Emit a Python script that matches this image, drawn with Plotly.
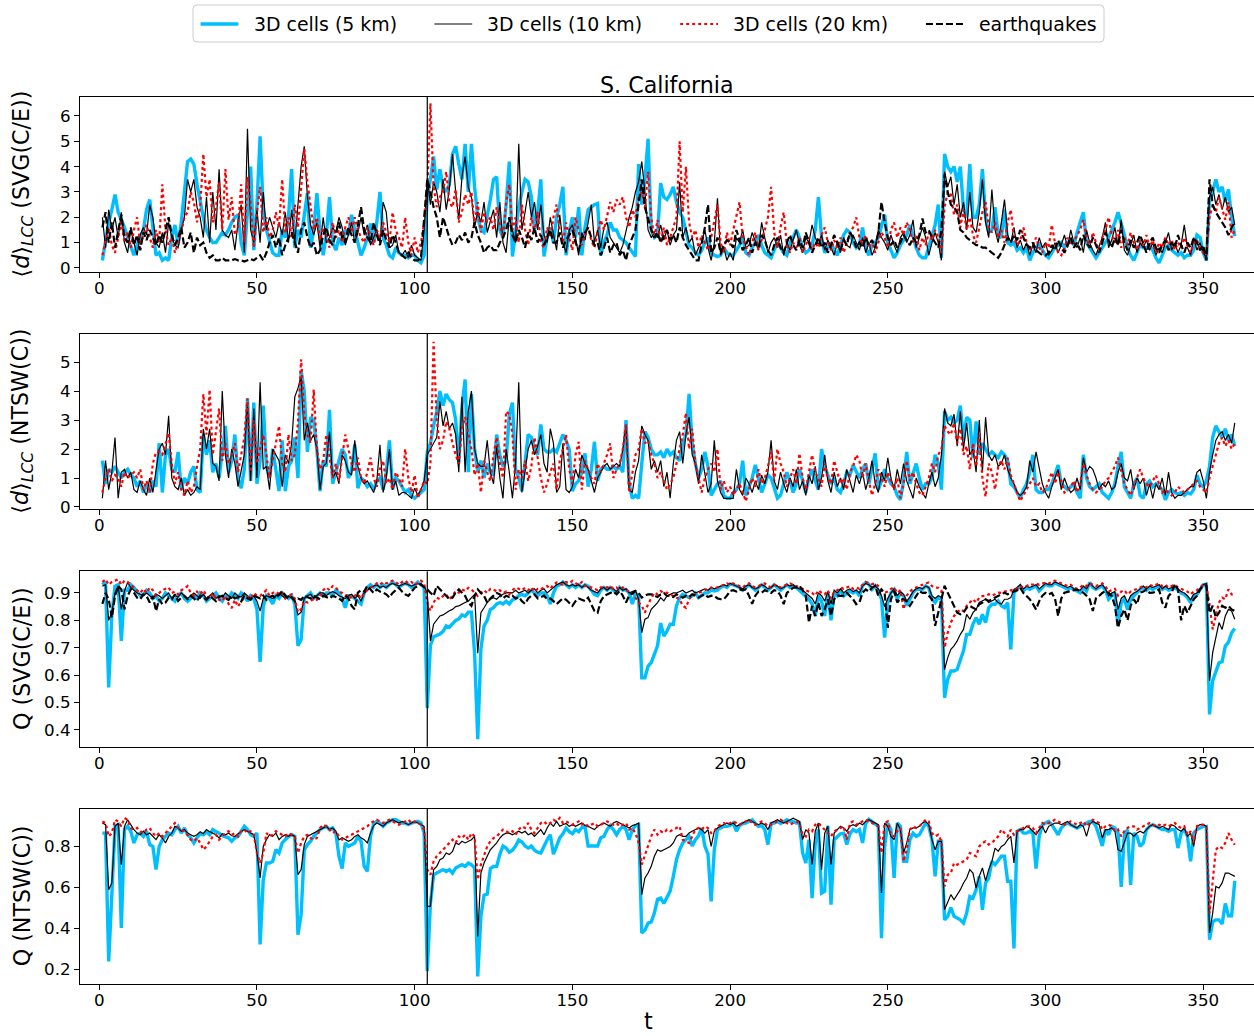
import plotly.graph_objects as go

# ---------------- data (t = 1 .. 360) ----------------
d5_svg = [
 0.3,1.0,1.8,2.3,2.9,2.2,1.9,1.6,1.2,0.8,0.5,0.9,1.2,1.5,2.3,2.7,1.6,0.5,0.6,0.3,
 0.4,0.3,1.2,1.7,0.9,1.8,3.0,4.2,4.3,4.1,3.3,2.6,2.0,1.5,1.2,1.0,1.0,1.2,1.4,1.3,
 1.5,1.8,2.0,2.1,1.0,0.5,2.2,4.0,0.7,2.5,5.2,2.3,1.5,1.0,0.6,0.5,0.5,1.5,1.2,2.0,
 3.9,0.8,1.5,1.2,2.0,2.95,0.8,1.5,2.95,1.4,0.5,1.3,2.8,1.0,0.7,1.2,0.9,1.5,1.3,2.1,
 1.5,1.0,0.5,0.8,1.2,1.75,1.0,1.8,3.0,1.2,0.9,0.5,0.4,0.8,0.6,0.5,0.5,0.4,0.5,0.5,
 0.3,0.2,0.5,2.8,3.5,4.4,3.1,3.9,3.2,3.0,3.3,4.5,4.8,4.1,3.5,4.9,3.0,4.9,3.2,2.0,
 1.5,1.4,2.0,2.7,3.5,3.6,1.5,1.2,2.5,4.2,0.45,1.5,2.4,3.0,3.5,3.4,2.8,1.5,2.2,3.5,
 0.45,1.2,1.6,1.0,2.0,2.5,3.2,0.5,1.4,2.0,1.2,2.4,0.5,1.6,2.3,2.4,2.5,2.55,0.5,1.0,
 1.3,1.8,1.5,1.5,1.2,1.1,1.0,0.8,0.6,0.45,4.1,2.5,3.5,5.1,1.5,1.2,1.3,3.35,2.8,2.7,
 2.9,3.2,2.6,2.2,2.0,1.5,0.9,0.8,0.6,0.5,0.7,1.0,1.2,0.6,0.5,0.45,0.5,0.8,0.6,0.5,
 0.5,0.7,0.9,1.2,0.6,0.5,0.8,1.0,1.3,0.9,0.6,0.5,0.4,0.7,1.0,0.8,0.6,0.5,1.0,1.2,
 1.5,1.2,0.8,0.6,0.7,0.9,1.5,2.8,1.2,0.6,0.8,1.0,0.7,0.5,0.9,1.3,1.5,1.4,1.0,0.8,
 0.9,1.6,0.8,0.5,0.9,1.0,1.2,1.6,2.1,1.0,0.7,0.4,0.6,0.9,1.1,1.3,1.7,1.2,0.8,0.5,
 0.4,0.4,0.8,1.2,1.7,2.5,0.4,4.5,4.0,3.8,4.0,3.4,4.0,2.3,2.0,4.1,2.0,2.0,2.5,3.9,
 2.0,1.4,1.5,2.4,1.3,1.2,2.3,1.0,0.9,1.0,0.7,0.8,0.6,0.8,0.3,0.6,0.8,1.0,0.7,0.5,
 0.4,0.6,0.8,0.9,1.0,0.8,1.0,1.1,0.9,1.4,1.8,2.2,1.0,0.8,0.6,0.4,0.6,0.8,1.0,1.2,
 1.5,1.8,2.2,1.8,1.3,0.8,0.5,0.3,0.6,0.9,0.8,0.8,0.9,0.7,0.4,0.2,0.5,0.8,0.9,0.7,
 0.6,0.5,0.6,0.4,0.5,0.5,0.7,1.3,1.2,0.6,0.3,2.7,3.0,3.5,3.0,3.2,2.6,3.1,2.0,1.25]

d10_svg = [
 2.0,0.8,2.3,1.5,2.0,1.2,2.2,1.0,0.6,1.5,1.0,0.5,1.3,1.6,1.3,2.5,2.0,1.0,0.8,1.4,
 0.6,1.8,1.2,0.9,0.8,1.5,2.0,3.5,3.0,3.5,2.4,2.0,1.2,2.8,1.0,3.0,1.5,3.9,1.5,1.3,
 1.2,1.5,0.7,1.8,2.5,0.6,5.5,1.5,1.0,2.3,1.0,3.0,1.5,2.0,1.6,1.2,1.8,1.3,2.2,1.0,
 2.3,1.0,2.5,4.0,4.8,2.8,1.7,1.3,1.8,0.8,2.0,1.0,1.2,1.6,1.4,2.0,1.6,0.9,1.3,1.8,
 1.0,1.4,2.0,1.3,1.7,0.9,1.2,1.5,1.0,2.6,2.2,0.8,0.9,1.3,0.6,0.5,0.7,0.4,0.9,0.5,
 0.4,0.3,1.5,3.5,2.5,3.4,3.0,2.2,3.5,2.3,3.1,4.5,3.0,1.9,3.6,4.4,3.2,2.8,1.6,2.2,
 1.8,2.6,1.4,1.9,2.3,1.2,2.6,1.0,0.6,2.0,1.5,1.0,4.9,1.5,2.2,3.0,2.0,2.6,1.5,2.5,
 1.3,1.0,2.0,1.4,0.7,2.1,1.0,0.6,1.5,1.7,1.2,0.5,1.4,1.1,1.8,2.5,1.0,1.5,0.8,1.6,
 1.8,1.2,1.0,0.8,0.6,0.9,1.5,2.0,2.4,3.0,3.4,4.2,3.0,1.5,1.2,1.4,1.2,1.7,1.1,1.5,
 0.9,1.3,1.5,3.4,1.2,1.6,1.0,1.2,0.5,0.8,1.0,1.5,0.8,0.3,1.0,2.75,0.5,0.8,0.3,0.6,
 0.3,1.2,1.0,1.5,0.8,0.9,1.4,1.0,0.7,1.8,1.2,0.6,1.0,1.2,0.8,1.3,0.5,1.0,0.7,1.1,
 1.5,0.9,0.6,1.2,1.0,1.7,1.2,0.9,1.3,0.7,1.1,0.8,0.5,1.0,0.6,1.2,0.9,0.8,1.3,1.0,
 0.7,1.2,0.6,1.0,0.5,0.8,1.5,1.2,1.0,0.7,1.3,0.9,0.6,1.2,1.4,1.0,1.3,1.9,0.8,1.2,
 1.6,1.2,0.5,1.0,1.4,1.0,0.3,3.8,3.2,3.6,2.5,3.3,2.0,2.6,1.5,3.0,1.6,1.4,2.2,3.5,
 1.8,1.2,3.1,1.5,1.0,1.8,2.7,1.3,1.0,1.6,0.8,1.1,0.7,1.0,0.5,0.9,0.6,1.2,0.8,1.0,
 0.5,0.7,1.0,0.6,0.9,1.3,0.8,1.5,1.0,0.8,1.2,0.6,1.5,1.0,0.7,0.5,0.9,1.2,1.8,0.8,
 1.1,1.6,0.9,1.9,0.7,0.5,0.9,1.3,0.6,1.0,0.8,1.1,0.7,1.0,0.5,0.8,0.6,1.0,1.4,0.7,
 1.0,0.6,0.9,1.7,0.8,0.5,1.2,0.7,1.0,0.6,0.4,2.8,3.2,2.5,2.9,2.3,2.8,2.2,2.4,1.7]

d20_svg = [
 0.5,1.0,1.6,0.9,0.6,1.2,1.8,1.0,1.4,0.8,1.5,2.0,0.9,1.3,1.7,1.2,0.8,1.5,1.0,3.3,
 1.5,0.9,1.2,0.6,1.0,1.4,2.0,2.2,3.0,2.6,1.8,2.4,4.5,2.8,3.5,1.8,2.4,3.4,1.5,3.9,
 1.9,2.8,1.3,1.6,3.3,1.0,3.6,2.5,0.8,2.2,3.2,1.4,2.0,1.2,1.5,2.2,1.6,3.5,1.4,2.0,
 1.2,2.5,1.6,3.0,4.7,3.4,2.5,1.5,2.0,1.1,1.6,1.3,0.8,1.8,1.2,1.5,1.0,1.6,2.0,1.4,
 2.0,1.5,1.2,1.0,1.6,1.3,0.9,1.5,1.2,1.8,1.4,1.0,2.2,1.5,1.2,0.8,2.0,1.0,0.5,1.2,
 0.6,1.0,1.8,3.0,6.5,3.2,2.4,2.8,3.0,3.8,2.6,2.4,3.1,1.8,2.2,2.9,2.5,3.0,1.7,2.6,
 1.4,2.2,1.8,2.0,1.5,2.4,1.7,1.2,2.6,3.3,1.5,2.0,1.0,2.5,1.5,0.9,2.0,1.4,2.2,1.0,
 0.8,1.6,1.2,2.0,2.5,1.4,1.0,1.8,1.2,0.7,2.0,1.5,0.9,1.3,1.6,1.1,0.8,1.4,1.9,1.5,
 2.0,2.6,2.2,2.7,2.5,2.8,2.0,1.6,2.3,2.0,2.8,3.0,2.4,3.8,2.0,1.2,1.9,1.0,1.6,0.9,
 1.2,1.6,2.0,5.0,2.2,4.0,1.8,1.2,1.5,0.8,1.3,1.0,0.7,1.2,1.8,2.5,1.0,0.6,1.4,0.9,
 1.5,2.0,2.6,1.2,0.8,0.5,1.0,1.4,0.7,1.1,1.5,2.0,3.2,1.4,0.8,1.6,2.2,0.9,0.6,1.0,
 0.8,1.2,0.6,0.9,1.2,0.7,1.0,0.8,1.3,1.6,1.0,0.7,1.1,0.8,1.2,0.6,1.0,1.4,1.6,2.0,
 1.2,0.9,1.3,0.8,1.1,0.6,1.0,1.4,1.2,0.8,1.5,1.8,1.2,1.6,1.3,1.8,1.5,1.0,1.3,0.7,
 1.2,0.9,1.4,1.1,1.5,1.2,0.6,2.4,3.0,2.9,2.1,2.5,1.6,2.3,1.5,2.0,1.3,1.0,1.6,2.2,
 2.6,1.6,1.4,1.8,1.2,1.5,1.0,1.8,2.3,1.2,0.9,1.1,1.6,1.0,0.7,0.9,1.2,0.8,0.6,1.0,
 0.8,1.7,1.0,0.6,0.5,0.8,1.2,0.9,1.0,1.3,1.5,1.9,1.2,0.8,1.4,1.0,0.7,1.2,1.5,2.0,
 1.3,1.0,1.5,0.8,1.2,0.9,1.4,1.0,0.7,1.1,0.9,1.3,0.8,1.1,0.6,1.0,0.8,1.2,0.9,1.1,
 0.7,1.0,0.8,1.2,0.9,0.6,1.0,1.1,0.8,0.6,0.5,2.0,2.5,2.2,2.8,2.4,1.9,2.6,1.2,1.5]

deq_svg = [
 1.6,2.2,1.0,1.8,0.8,1.5,2.1,1.2,1.0,1.6,0.9,1.3,0.7,1.4,1.1,1.5,1.2,0.9,1.3,1.0,
 1.5,2.0,1.3,0.9,1.2,1.6,0.8,1.0,1.4,0.6,1.2,0.9,1.0,0.6,0.4,0.5,0.3,0.3,0.4,0.3,
 0.3,0.3,0.35,0.3,0.3,0.25,0.3,0.35,0.3,0.4,0.5,0.3,0.6,1.0,1.3,0.8,1.2,0.5,0.9,1.2,
 1.4,1.0,0.6,1.5,1.8,1.2,0.8,1.0,0.5,0.7,1.3,1.6,1.1,0.9,1.4,1.8,1.2,1.0,1.6,1.3,
 1.0,1.7,2.4,1.5,1.2,1.0,1.8,1.3,0.9,1.5,1.1,0.8,1.3,1.0,0.6,0.5,0.4,0.6,0.4,0.3,
 0.3,0.4,2.0,3.5,3.0,2.4,2.0,1.2,2.0,1.6,1.2,0.9,1.0,1.3,1.1,1.4,1.0,1.2,1.8,1.3,
 1.0,0.6,0.8,0.9,0.7,0.7,1.0,1.2,1.5,2.0,1.3,1.0,1.5,1.2,0.8,1.4,1.1,1.6,1.0,1.3,
 0.9,1.2,1.5,1.0,1.0,1.4,0.8,1.1,1.3,1.5,1.0,0.7,1.2,1.4,1.6,1.2,0.9,1.0,0.5,0.8,
 1.2,0.6,0.9,1.0,0.5,0.7,0.3,0.9,1.2,1.5,2.5,3.5,2.4,2.0,1.5,1.2,1.4,1.0,1.3,1.5,
 1.1,1.3,1.0,1.6,1.2,0.9,0.7,0.5,0.3,0.3,1.0,1.6,2.5,0.6,0.8,1.2,0.6,0.9,1.1,1.0,
 0.8,1.5,1.1,0.7,0.9,1.2,0.6,1.0,0.8,1.3,1.1,0.7,0.5,0.9,1.2,0.8,0.6,1.0,1.3,0.9,
 0.7,1.1,0.8,1.4,1.0,0.6,0.9,1.2,0.8,1.0,0.6,0.9,1.3,1.0,0.7,1.1,0.9,1.4,1.2,0.8,
 1.0,0.8,1.2,0.9,1.1,0.8,1.4,2.6,1.8,1.2,0.9,1.1,0.8,1.0,1.3,1.1,0.9,1.2,1.0,1.3,
 1.95,1.4,1.5,1.2,1.0,0.8,1.5,3.7,3.0,2.5,2.4,2.2,1.5,1.4,1.2,1.1,1.0,0.9,0.9,0.8,
 0.8,0.7,0.6,0.5,0.4,0.6,0.9,1.2,1.0,1.3,1.1,1.5,1.2,0.9,0.8,1.0,0.7,0.6,0.5,0.5,
 0.6,0.9,0.7,1.1,0.8,0.6,0.9,1.2,0.8,1.0,0.7,1.3,1.0,0.8,1.2,0.9,0.6,1.0,1.4,1.1,
 0.8,1.2,0.9,1.5,1.0,0.7,1.1,0.8,1.0,1.3,0.9,0.6,1.0,1.2,0.8,0.6,0.9,1.1,0.7,1.0,
 0.8,1.3,0.9,0.6,1.0,0.8,1.2,1.0,0.7,0.9,0.3,3.5,2.5,2.2,2.0,1.8,1.6,1.3,1.6,1.8]

d5_ntsw = [
 1.6,0.8,1.3,1.2,1.4,1.2,1.0,1.2,1.3,1.1,1.0,0.7,0.9,0.5,0.8,0.5,0.9,0.7,2.2,0.5,
 1.8,2.0,1.3,1.2,1.9,0.6,1.0,0.8,1.2,1.4,0.6,0.5,2.5,1.8,2.3,1.2,1.5,1.0,1.8,2.8,
 1.2,1.6,2.5,1.0,0.65,1.3,3.75,0.9,3.6,0.8,1.6,3.5,1.4,1.0,2.0,1.2,0.55,2.3,0.55,1.4,
 1.6,2.4,1.0,4.7,4.0,1.9,3.1,3.0,2.0,0.55,1.6,1.4,3.35,0.8,1.2,1.5,2.0,1.8,1.0,1.3,
 2.15,0.65,1.0,0.9,0.7,0.8,0.6,0.9,1.0,0.6,1.2,2.3,0.6,1.0,0.9,0.7,0.5,0.6,0.4,0.3,
 0.4,0.5,0.6,1.9,2.2,2.8,3.3,4.0,3.5,3.9,3.7,3.6,3.0,1.5,3.5,4.4,1.2,3.9,2.0,1.2,
 1.6,1.0,1.5,1.2,1.1,2.5,1.8,1.4,1.6,3.2,3.6,1.3,1.0,0.55,1.5,2.5,2.4,2.0,1.8,2.85,
 2.0,1.9,1.9,2.0,1.9,2.2,2.5,2.3,2.0,0.55,0.8,0.9,1.2,1.85,0.7,1.3,2.25,0.9,1.3,1.4,
 1.3,1.3,1.4,1.3,1.4,1.2,3.0,0.8,0.3,0.4,0.3,1.5,2.6,2.4,2.0,1.8,1.8,1.9,1.7,2.0,
 1.8,1.9,1.7,1.6,2.2,2.5,3.9,2.2,1.5,1.0,1.3,1.9,1.4,0.4,0.6,0.8,0.9,0.4,0.3,0.3,
 0.5,0.6,0.8,1.6,0.4,0.7,1.0,1.45,1.0,0.5,0.8,1.1,1.0,0.6,0.3,0.4,0.8,1.2,0.9,0.5,
 0.8,1.3,0.9,0.5,1.0,1.3,0.9,0.6,2.0,1.4,1.1,0.8,1.0,0.6,0.5,0.8,1.2,1.1,1.45,1.2,
 1.0,1.3,1.5,0.8,1.3,1.85,0.6,0.9,1.3,1.0,0.8,0.7,0.4,0.25,0.9,1.9,0.8,1.2,1.5,1.0,
 0.6,0.8,0.8,1.0,1.8,1.5,0.6,3.3,3.0,3.1,2.9,3.0,3.5,2.3,3.1,3.0,1.7,2.95,1.8,2.2,
 2.0,1.8,1.9,1.8,1.7,1.9,1.8,1.6,0.8,0.7,0.5,0.3,0.6,0.8,1.2,1.8,0.6,0.5,0.5,0.6,
 0.6,0.8,1.1,1.45,0.8,0.7,0.6,0.7,0.8,0.5,0.3,1.8,1.0,0.7,0.6,0.7,0.8,0.5,0.4,0.3,
 0.5,0.8,1.4,1.9,0.7,0.5,0.3,0.8,1.0,0.4,0.3,0.8,0.9,0.7,0.8,0.7,0.6,0.25,0.5,0.6,
 0.5,0.45,0.5,0.4,0.5,0.45,0.6,1.1,0.8,0.7,0.9,1.4,2.4,2.8,2.6,2.4,2.7,2.3,2.5,2.1]

d10_ntsw = [
 0.3,1.6,0.6,1.2,2.4,0.3,1.2,1.3,1.0,1.2,0.6,0.5,0.9,0.6,0.4,1.0,0.5,1.3,2.0,2.2,
 1.8,3.15,1.0,0.7,0.6,1.0,0.4,0.6,0.4,0.5,0.7,0.6,2.7,2.0,2.7,1.5,1.4,0.9,4.0,1.8,
 1.0,2.0,1.5,0.7,1.2,1.8,3.6,0.9,3.4,1.0,4.3,1.3,1.4,0.6,2.0,1.8,1.6,0.7,1.8,1.5,
 2.2,3.8,4.1,4.5,2.3,2.9,2.3,2.5,2.0,0.6,1.4,1.5,2.6,1.0,1.2,0.8,1.8,1.6,1.2,1.1,
 2.3,1.4,1.0,0.8,0.9,0.7,0.5,0.9,2.15,0.5,1.0,2.0,0.6,0.9,0.4,0.5,0.5,0.4,0.3,0.65,
 0.4,0.6,0.9,1.8,2.0,2.2,2.4,3.65,2.8,3.3,2.7,2.9,2.5,1.2,3.8,1.2,3.3,4.0,2.0,1.5,
 1.4,1.4,2.3,1.2,0.8,2.1,1.0,0.3,2.0,1.2,0.3,1.5,4.3,0.5,1.2,2.0,2.3,1.8,2.1,2.5,
 1.5,1.2,2.7,2.2,0.5,0.7,2.2,0.6,0.5,0.7,1.3,1.0,1.8,1.5,1.3,0.9,0.5,1.0,1.2,1.4,
 1.5,1.3,1.4,1.5,1.4,2.0,2.8,0.6,0.5,1.2,1.6,2.8,2.5,2.3,1.3,1.6,1.2,1.6,0.7,1.2,
 0.3,1.5,2.3,2.6,1.5,2.5,3.1,1.8,1.5,0.8,1.8,1.2,0.5,0.8,2.3,0.9,0.5,0.3,0.3,0.3,
 0.3,1.3,0.6,0.4,1.0,0.8,0.5,0.9,0.6,1.1,0.8,1.2,2.3,0.9,0.6,1.2,0.8,0.5,1.0,0.7,
 1.3,0.6,0.9,0.4,1.1,0.8,1.4,0.6,1.0,1.8,0.9,0.5,1.2,0.7,1.0,0.6,1.3,0.9,0.5,1.1,
 0.8,1.2,0.6,1.0,1.6,0.8,0.5,1.2,0.9,1.7,1.0,0.6,1.3,0.8,1.5,0.9,0.6,0.3,1.0,0.7,
 0.5,0.3,0.8,1.2,0.7,1.0,1.8,3.4,2.9,2.8,3.2,2.1,3.3,2.0,2.9,1.8,2.0,1.2,3.0,1.2,
 3.1,1.8,1.6,1.8,1.4,1.5,1.8,1.3,1.0,0.8,0.5,0.4,0.5,0.7,1.6,1.2,1.9,1.4,0.8,0.5,
 0.3,0.7,1.0,1.3,0.6,1.0,0.7,0.5,0.6,1.0,0.6,1.7,1.2,1.4,1.3,1.0,0.6,0.8,0.7,0.9,
 0.6,0.7,1.2,1.5,1.0,0.9,1.3,0.6,1.0,0.8,1.0,0.4,0.8,0.3,0.8,0.6,1.0,0.4,1.2,0.5,
 0.3,0.4,0.4,0.5,0.6,0.7,0.7,1.2,1.3,0.9,0.3,1.2,1.8,2.3,2.5,2.6,2.3,2.5,2.2,2.9]

d20_ntsw = [
 0.5,1.0,1.3,0.9,1.1,1.0,0.7,1.2,1.0,1.1,1.2,1.0,1.3,0.6,0.9,0.5,1.5,1.9,1.9,1.8,
 2.2,2.55,1.5,0.8,1.2,0.6,0.4,0.9,0.5,0.7,1.4,2.0,3.9,2.5,4.05,1.8,2.6,3.4,1.6,2.2,
 1.5,1.8,2.2,1.2,1.8,2.4,3.75,1.2,3.0,1.5,2.0,2.5,1.8,1.0,1.6,2.2,2.8,1.5,1.2,2.5,
 1.6,1.8,2.9,5.1,3.2,2.5,2.2,4.05,2.0,1.3,1.6,2.5,1.8,1.0,1.5,0.9,1.7,2.5,2.0,1.5,
 1.2,1.7,1.0,0.8,1.2,1.7,1.0,0.7,1.3,1.6,0.8,1.0,0.6,1.2,1.0,0.7,2.0,1.0,0.5,1.1,
 0.3,0.6,0.9,0.8,1.5,5.7,3.0,2.0,2.3,2.95,2.7,2.2,1.8,1.5,2.7,3.1,2.5,2.0,1.1,1.5,
 0.5,1.6,1.2,0.9,1.8,2.4,1.5,1.0,3.3,3.2,2.5,0.6,1.3,1.0,1.6,0.9,1.4,2.4,1.7,1.0,
 0.5,0.8,1.2,1.5,0.6,1.6,2.0,2.5,1.3,0.8,1.8,2.25,0.6,1.6,1.3,1.0,0.8,1.5,1.2,1.5,
 1.8,2.2,1.0,1.3,1.5,2.0,2.85,0.5,1.2,1.8,2.0,2.7,2.2,2.3,1.8,1.5,1.0,1.2,0.9,0.6,
 0.8,1.0,1.5,2.0,2.5,3.25,2.0,2.7,1.5,1.0,0.5,1.0,1.3,1.5,1.2,2.0,0.6,0.9,0.5,0.7,
 0.4,0.6,0.8,0.5,0.2,0.6,1.0,0.7,1.3,0.8,1.0,1.4,1.9,0.9,2.0,1.5,1.2,0.7,1.0,1.3,
 0.8,1.85,1.0,0.6,1.2,1.8,1.2,1.0,0.7,1.5,1.0,0.8,1.6,1.2,0.8,1.0,0.6,1.2,1.4,1.8,
 1.6,1.0,1.5,0.9,0.4,0.8,1.3,1.0,0.7,1.2,0.9,0.6,1.0,0.3,0.8,1.6,0.9,1.2,0.8,0.5,
 0.4,0.7,1.0,1.5,1.2,1.8,2.0,2.8,2.6,2.5,2.9,2.2,2.7,1.8,2.1,1.3,2.2,1.4,2.5,1.0,
 0.35,1.5,1.2,0.6,1.4,1.6,1.3,1.7,1.1,0.8,0.5,0.2,0.4,0.6,0.8,1.0,0.7,0.8,0.5,0.6,
 0.9,1.2,0.8,1.2,0.9,0.5,0.6,0.7,0.9,0.5,0.8,1.5,1.1,0.8,0.6,0.5,0.6,0.7,0.9,1.0,
 1.2,1.4,1.7,1.2,0.8,0.6,0.4,0.7,1.0,1.3,1.0,0.8,0.7,0.9,1.1,0.8,0.5,0.6,0.5,0.4,
 0.5,0.7,0.6,0.5,0.6,0.7,0.8,0.9,0.7,0.6,0.5,1.0,1.4,1.8,2.2,2.4,2.1,2.3,2.0,2.2]

q5_svg = [
 0.93,0.94,0.555,0.82,0.925,0.93,0.725,0.91,0.91,0.93,0.92,0.905,0.89,0.895,0.91,0.90,0.88,0.89,0.87,0.88,
 0.90,0.89,0.88,0.87,0.89,0.90,0.88,0.87,0.88,0.89,0.88,0.90,0.89,0.87,0.88,0.89,0.90,0.88,0.87,0.89,
 0.88,0.90,0.89,0.88,0.90,0.89,0.87,0.89,0.88,0.84,0.648,0.85,0.89,0.88,0.86,0.89,0.88,0.90,0.89,0.88,
 0.89,0.86,0.707,0.73,0.88,0.89,0.90,0.88,0.89,0.90,0.89,0.90,0.90,0.89,0.91,0.90,0.88,0.846,0.89,0.89,
 0.88,0.87,0.86,0.90,0.92,0.93,0.92,0.93,0.92,0.93,0.92,0.93,0.94,0.93,0.92,0.93,0.935,0.93,0.92,0.93,
 0.94,0.93,0.92,0.48,0.71,0.74,0.745,0.75,0.76,0.78,0.775,0.79,0.80,0.805,0.82,0.815,0.83,0.83,0.68,0.366,
 0.695,0.78,0.80,0.84,0.846,0.86,0.865,0.86,0.87,0.86,0.875,0.88,0.89,0.895,0.89,0.90,0.91,0.90,0.89,0.90,
 0.90,0.89,0.86,0.90,0.925,0.93,0.94,0.93,0.92,0.93,0.92,0.93,0.92,0.93,0.925,0.91,0.895,0.89,0.91,0.92,
 0.91,0.92,0.91,0.90,0.92,0.91,0.913,0.90,0.86,0.90,0.89,0.59,0.59,0.633,0.646,0.68,0.707,0.79,0.743,0.761,
 0.786,0.786,0.853,0.883,0.895,0.889,0.883,0.89,0.90,0.883,0.89,0.90,0.901,0.91,0.907,0.91,0.92,0.926,0.92,0.932,
 0.93,0.926,0.92,0.91,0.92,0.93,0.92,0.91,0.92,0.93,0.92,0.91,0.92,0.93,0.92,0.91,0.92,0.93,0.92,0.926,
 0.92,0.91,0.90,0.89,0.877,0.86,0.816,0.889,0.87,0.816,0.90,0.80,0.90,0.89,0.913,0.889,0.90,0.907,0.90,0.907,
 0.889,0.926,0.938,0.932,0.913,0.926,0.91,0.877,0.737,0.865,0.901,0.913,0.877,0.901,0.889,0.853,0.877,0.901,0.913,0.913,
 0.913,0.926,0.919,0.877,0.865,0.883,0.877,0.518,0.585,0.615,0.615,0.621,0.658,0.689,0.749,0.749,0.786,0.81,0.786,0.822,
 0.792,0.846,0.859,0.859,0.871,0.853,0.846,0.865,0.694,0.901,0.913,0.926,0.907,0.92,0.913,0.92,0.926,0.907,0.92,0.932,
 0.926,0.926,0.938,0.93,0.926,0.92,0.913,0.92,0.913,0.905,0.901,0.919,0.907,0.938,0.92,0.913,0.92,0.926,0.91,0.877,
 0.89,0.901,0.78,0.865,0.877,0.84,0.877,0.889,0.90,0.913,0.92,0.91,0.92,0.913,0.92,0.926,0.913,0.92,0.91,0.913,
 0.92,0.91,0.90,0.895,0.883,0.865,0.89,0.895,0.91,0.93,0.932,0.457,0.58,0.61,0.645,0.65,0.706,0.72,0.755,0.77]

q10_svg = [
 0.925,0.93,0.80,0.83,0.90,0.926,0.84,0.907,0.938,0.92,0.91,0.90,0.895,0.89,0.90,0.89,0.88,0.895,0.89,0.88,
 0.89,0.90,0.88,0.89,0.885,0.90,0.89,0.88,0.89,0.90,0.89,0.88,0.895,0.88,0.89,0.90,0.88,0.89,0.885,0.90,
 0.89,0.88,0.90,0.89,0.885,0.90,0.89,0.88,0.89,0.87,0.834,0.88,0.89,0.885,0.88,0.89,0.90,0.89,0.88,0.89,
 0.88,0.87,0.82,0.83,0.88,0.89,0.895,0.88,0.89,0.90,0.90,0.89,0.90,0.905,0.90,0.89,0.885,0.88,0.89,0.895,
 0.88,0.89,0.87,0.90,0.91,0.92,0.925,0.93,0.92,0.925,0.92,0.93,0.935,0.93,0.925,0.93,0.935,0.93,0.925,0.93,
 0.935,0.93,0.925,0.90,0.725,0.786,0.80,0.816,0.82,0.828,0.835,0.84,0.85,0.853,0.86,0.865,0.87,0.883,0.895,0.68,
 0.828,0.846,0.865,0.877,0.883,0.877,0.889,0.895,0.90,0.901,0.90,0.91,0.90,0.905,0.91,0.90,0.91,0.915,0.90,0.91,
 0.915,0.90,0.91,0.92,0.93,0.935,0.94,0.93,0.925,0.93,0.925,0.93,0.92,0.93,0.92,0.91,0.905,0.90,0.915,0.92,
 0.91,0.92,0.915,0.905,0.92,0.91,0.915,0.90,0.905,0.91,0.877,0.755,0.804,0.81,0.84,0.853,0.865,0.883,0.871,0.889,
 0.895,0.90,0.90,0.905,0.91,0.90,0.905,0.91,0.90,0.905,0.91,0.915,0.91,0.92,0.915,0.92,0.925,0.93,0.925,0.935,
 0.93,0.925,0.92,0.915,0.925,0.93,0.92,0.915,0.92,0.93,0.925,0.915,0.92,0.93,0.925,0.915,0.92,0.93,0.925,0.93,
 0.92,0.915,0.91,0.90,0.89,0.88,0.86,0.90,0.89,0.87,0.905,0.86,0.91,0.90,0.915,0.90,0.91,0.915,0.905,0.91,
 0.90,0.925,0.935,0.93,0.92,0.925,0.915,0.89,0.85,0.88,0.90,0.915,0.89,0.905,0.895,0.87,0.885,0.905,0.915,0.92,
 0.915,0.925,0.92,0.89,0.88,0.89,0.885,0.62,0.664,0.694,0.707,0.725,0.749,0.767,0.822,0.804,0.828,0.84,0.865,0.871,
 0.877,0.865,0.871,0.877,0.865,0.859,0.877,0.877,0.883,0.913,0.92,0.93,0.915,0.925,0.92,0.925,0.93,0.915,0.925,0.935,
 0.93,0.93,0.94,0.935,0.93,0.925,0.92,0.925,0.915,0.91,0.91,0.925,0.915,0.935,0.925,0.915,0.925,0.93,0.915,0.89,
 0.90,0.905,0.84,0.88,0.89,0.865,0.89,0.90,0.905,0.915,0.925,0.915,0.925,0.92,0.925,0.93,0.915,0.925,0.915,0.92,
 0.925,0.915,0.905,0.90,0.89,0.875,0.895,0.90,0.915,0.93,0.935,0.579,0.682,0.731,0.792,0.767,0.816,0.84,0.834,0.804]

q20_svg = [
 0.94,0.95,0.93,0.94,0.945,0.95,0.93,0.945,0.94,0.93,0.92,0.91,0.90,0.915,0.90,0.92,0.91,0.89,0.90,0.91,
 0.915,0.92,0.90,0.905,0.895,0.91,0.915,0.925,0.90,0.89,0.905,0.895,0.91,0.89,0.88,0.90,0.88,0.875,0.87,0.89,
 0.86,0.845,0.875,0.85,0.87,0.88,0.885,0.88,0.90,0.89,0.889,0.90,0.91,0.89,0.90,0.905,0.895,0.90,0.88,0.89,
 0.895,0.88,0.83,0.84,0.87,0.865,0.87,0.88,0.875,0.89,0.91,0.92,0.91,0.925,0.92,0.905,0.90,0.89,0.895,0.88,
 0.89,0.895,0.88,0.90,0.91,0.92,0.925,0.935,0.93,0.94,0.935,0.94,0.945,0.94,0.93,0.94,0.945,0.935,0.94,0.93,
 0.935,0.945,0.935,0.865,0.835,0.865,0.883,0.877,0.889,0.895,0.877,0.889,0.907,0.901,0.913,0.907,0.919,0.913,0.901,0.889,
 0.90,0.91,0.90,0.915,0.913,0.905,0.91,0.90,0.905,0.895,0.91,0.92,0.915,0.91,0.919,0.91,0.92,0.905,0.915,0.913,
 0.92,0.925,0.915,0.93,0.938,0.935,0.93,0.94,0.935,0.944,0.935,0.93,0.94,0.925,0.926,0.92,0.915,0.91,0.92,0.919,
 0.92,0.925,0.915,0.92,0.913,0.92,0.91,0.905,0.90,0.883,0.865,0.853,0.828,0.859,0.883,0.901,0.895,0.907,0.90,0.901,
 0.895,0.889,0.88,0.877,0.853,0.846,0.877,0.89,0.895,0.901,0.905,0.91,0.915,0.92,0.915,0.92,0.925,0.93,0.935,0.93,
 0.935,0.93,0.925,0.92,0.93,0.935,0.925,0.92,0.925,0.93,0.935,0.925,0.92,0.93,0.925,0.92,0.925,0.93,0.935,0.93,
 0.925,0.92,0.915,0.91,0.905,0.90,0.89,0.91,0.90,0.895,0.91,0.88,0.905,0.91,0.92,0.915,0.92,0.925,0.915,0.92,
 0.915,0.93,0.94,0.935,0.932,0.935,0.925,0.91,0.901,0.905,0.915,0.92,0.90,0.91,0.84,0.89,0.905,0.915,0.92,0.926,
 0.93,0.935,0.938,0.925,0.92,0.919,0.91,0.70,0.755,0.792,0.816,0.828,0.84,0.834,0.853,0.865,0.877,0.865,0.883,0.889,
 0.89,0.895,0.89,0.895,0.901,0.90,0.905,0.907,0.91,0.913,0.915,0.926,0.92,0.925,0.932,0.93,0.935,0.93,0.935,0.938,
 0.935,0.94,0.945,0.94,0.935,0.93,0.925,0.93,0.92,0.915,0.92,0.93,0.925,0.935,0.93,0.925,0.93,0.935,0.925,0.905,
 0.91,0.915,0.89,0.905,0.91,0.895,0.905,0.91,0.915,0.92,0.925,0.92,0.93,0.925,0.93,0.935,0.925,0.93,0.92,0.926,
 0.93,0.92,0.915,0.91,0.905,0.895,0.905,0.91,0.92,0.93,0.926,0.858,0.767,0.816,0.865,0.883,0.877,0.913,0.895,0.895]

qeq_svg = [
 0.86,0.90,0.877,0.81,0.889,0.926,0.913,0.84,0.889,0.913,0.901,0.883,0.877,0.895,0.889,0.865,0.889,0.834,0.877,0.859,
 0.865,0.883,0.877,0.895,0.871,0.883,0.889,0.877,0.89,0.88,0.87,0.89,0.885,0.875,0.89,0.88,0.87,0.885,0.89,0.88,
 0.875,0.89,0.88,0.885,0.87,0.89,0.88,0.875,0.89,0.885,0.88,0.89,0.875,0.885,0.89,0.88,0.895,0.907,0.89,0.88,
 0.885,0.87,0.88,0.875,0.89,0.885,0.88,0.89,0.885,0.877,0.89,0.885,0.88,0.89,0.885,0.88,0.871,0.89,0.88,0.853,
 0.84,0.901,0.91,0.905,0.926,0.913,0.90,0.913,0.905,0.901,0.895,0.883,0.90,0.91,0.919,0.905,0.895,0.889,0.905,0.919,
 0.925,0.932,0.92,0.913,0.901,0.889,0.926,0.913,0.901,0.889,0.877,0.883,0.901,0.913,0.901,0.889,0.865,0.853,0.889,0.913,
 0.90,0.89,0.865,0.88,0.89,0.90,0.895,0.88,0.89,0.885,0.89,0.88,0.885,0.87,0.86,0.88,0.89,0.895,0.88,0.885,
 0.89,0.877,0.88,0.87,0.859,0.87,0.88,0.875,0.865,0.853,0.87,0.88,0.875,0.87,0.883,0.86,0.834,0.828,0.87,0.889,
 0.895,0.90,0.905,0.895,0.907,0.89,0.865,0.89,0.90,0.907,0.90,0.883,0.89,0.895,0.895,0.89,0.885,0.895,0.90,0.889,
 0.89,0.885,0.895,0.89,0.883,0.89,0.885,0.895,0.89,0.883,0.89,0.895,0.885,0.89,0.889,0.88,0.877,0.877,0.89,0.907,
 0.91,0.905,0.913,0.91,0.913,0.89,0.86,0.89,0.905,0.901,0.91,0.905,0.90,0.91,0.907,0.89,0.859,0.90,0.91,0.919,
 0.92,0.926,0.91,0.89,0.792,0.853,0.816,0.865,0.816,0.84,0.877,0.816,0.877,0.89,0.889,0.89,0.901,0.89,0.877,0.859,
 0.865,0.901,0.913,0.905,0.919,0.926,0.889,0.913,0.90,0.773,0.877,0.907,0.865,0.88,0.877,0.87,0.853,0.871,0.89,0.907,
 0.90,0.901,0.89,0.877,0.78,0.828,0.877,0.926,0.901,0.877,0.853,0.828,0.822,0.828,0.846,0.853,0.846,0.84,0.859,0.865,
 0.877,0.871,0.877,0.883,0.889,0.895,0.901,0.895,0.90,0.907,0.91,0.919,0.90,0.889,0.877,0.86,0.84,0.87,0.89,0.90,
 0.895,0.90,0.88,0.816,0.88,0.901,0.905,0.907,0.91,0.913,0.905,0.901,0.89,0.877,0.834,0.88,0.889,0.90,0.907,0.90,
 0.889,0.853,0.773,0.816,0.84,0.80,0.853,0.877,0.859,0.901,0.905,0.913,0.90,0.901,0.905,0.913,0.865,0.846,0.889,0.901,
 0.932,0.913,0.80,0.853,0.828,0.853,0.877,0.889,0.913,0.926,0.926,0.828,0.853,0.81,0.828,0.853,0.846,0.853,0.84,0.834]

q5_ntsw = [
 0.863,0.863,0.237,0.60,0.896,0.904,0.40,0.88,0.896,0.872,0.815,0.855,0.863,0.847,0.872,0.807,0.798,0.685,0.798,0.831,
 0.847,0.863,0.855,0.88,0.896,0.863,0.888,0.855,0.84,0.815,0.84,0.86,0.855,0.87,0.855,0.88,0.87,0.863,0.85,0.847,
 0.84,0.823,0.84,0.847,0.87,0.896,0.88,0.855,0.847,0.863,0.32,0.636,0.717,0.717,0.725,0.782,0.766,0.815,0.831,0.847,
 0.855,0.847,0.367,0.465,0.78,0.807,0.823,0.847,0.863,0.88,0.888,0.896,0.88,0.888,0.863,0.75,0.69,0.815,0.798,0.807,
 0.815,0.847,0.823,0.70,0.676,0.847,0.91,0.92,0.912,0.896,0.912,0.92,0.928,0.928,0.92,0.912,0.912,0.904,0.912,0.916,
 0.92,0.912,0.863,0.19,0.52,0.66,0.668,0.676,0.685,0.676,0.685,0.668,0.693,0.701,0.709,0.701,0.717,0.709,0.693,0.164,
 0.457,0.56,0.565,0.69,0.70,0.701,0.76,0.80,0.79,0.77,0.78,0.80,0.83,0.82,0.80,0.79,0.80,0.78,0.77,0.766,
 0.80,0.83,0.855,0.76,0.80,0.84,0.86,0.888,0.87,0.86,0.88,0.87,0.89,0.896,0.80,0.80,0.80,0.80,0.84,0.847,
 0.88,0.90,0.88,0.855,0.88,0.896,0.88,0.831,0.88,0.90,0.904,0.376,0.39,0.424,0.43,0.473,0.54,0.546,0.52,0.554,
 0.58,0.652,0.733,0.782,0.815,0.831,0.847,0.80,0.831,0.85,0.888,0.80,0.76,0.53,0.782,0.88,0.888,0.896,0.896,0.90,
 0.912,0.872,0.90,0.91,0.912,0.92,0.928,0.91,0.896,0.90,0.88,0.807,0.91,0.912,0.92,0.91,0.92,0.928,0.92,0.92,
 0.912,0.912,0.766,0.717,0.831,0.546,0.815,0.88,0.57,0.579,0.90,0.514,0.831,0.847,0.86,0.863,0.807,0.86,0.88,0.87,
 0.88,0.815,0.912,0.93,0.92,0.91,0.896,0.35,0.798,0.912,0.88,0.644,0.912,0.896,0.725,0.725,0.831,0.863,0.847,0.855,
 0.88,0.912,0.896,0.831,0.652,0.823,0.823,0.44,0.457,0.50,0.457,0.449,0.44,0.424,0.473,0.554,0.546,0.587,0.652,0.489,
 0.62,0.644,0.725,0.709,0.733,0.75,0.75,0.628,0.628,0.30,0.872,0.88,0.863,0.863,0.872,0.863,0.69,0.847,0.904,0.912,
 0.92,0.904,0.88,0.855,0.888,0.904,0.912,0.904,0.896,0.888,0.896,0.904,0.912,0.92,0.92,0.896,0.85,0.80,0.88,0.855,
 0.896,0.888,0.863,0.60,0.855,0.88,0.61,0.863,0.847,0.798,0.815,0.88,0.896,0.904,0.896,0.888,0.88,0.88,0.872,0.88,
 0.88,0.79,0.863,0.88,0.847,0.725,0.863,0.88,0.888,0.896,0.896,0.343,0.43,0.44,0.44,0.42,0.52,0.46,0.46,0.63]

q10_ntsw = [
 0.912,0.904,0.587,0.62,0.896,0.912,0.709,0.896,0.928,0.904,0.88,0.863,0.855,0.872,0.855,0.863,0.847,0.831,0.855,0.839,
 0.815,0.847,0.863,0.896,0.888,0.872,0.88,0.863,0.855,0.847,0.855,0.87,0.86,0.88,0.87,0.863,0.855,0.84,0.86,0.855,
 0.863,0.85,0.847,0.86,0.872,0.88,0.872,0.863,0.855,0.766,0.644,0.798,0.831,0.855,0.847,0.863,0.831,0.847,0.855,0.847,
 0.855,0.847,0.66,0.685,0.807,0.847,0.855,0.863,0.872,0.88,0.888,0.896,0.88,0.888,0.872,0.83,0.84,0.831,0.823,0.831,
 0.847,0.855,0.84,0.831,0.815,0.863,0.90,0.912,0.904,0.896,0.912,0.92,0.928,0.92,0.912,0.92,0.912,0.904,0.912,0.92,
 0.912,0.904,0.896,0.506,0.506,0.685,0.701,0.733,0.741,0.766,0.758,0.774,0.815,0.807,0.823,0.815,0.823,0.831,0.847,0.359,
 0.668,0.717,0.75,0.782,0.798,0.815,0.839,0.855,0.863,0.863,0.855,0.863,0.872,0.863,0.872,0.855,0.863,0.847,0.863,0.88,
 0.855,0.888,0.912,0.896,0.92,0.896,0.904,0.91,0.896,0.904,0.896,0.904,0.912,0.90,0.896,0.888,0.88,0.896,0.904,0.912,
 0.904,0.896,0.912,0.92,0.912,0.904,0.896,0.888,0.90,0.904,0.912,0.563,0.644,0.668,0.701,0.75,0.782,0.774,0.782,0.79,
 0.798,0.815,0.847,0.855,0.847,0.847,0.863,0.872,0.88,0.888,0.88,0.863,0.88,0.798,0.872,0.888,0.896,0.904,0.912,0.904,
 0.912,0.896,0.904,0.912,0.92,0.928,0.92,0.912,0.904,0.912,0.904,0.88,0.912,0.92,0.928,0.92,0.912,0.92,0.928,0.936,
 0.928,0.92,0.831,0.88,0.863,0.709,0.872,0.912,0.685,0.863,0.896,0.709,0.863,0.88,0.896,0.888,0.872,0.896,0.904,0.896,
 0.912,0.904,0.92,0.928,0.92,0.912,0.904,0.571,0.912,0.896,0.847,0.831,0.912,0.88,0.766,0.815,0.88,0.888,0.888,0.896,
 0.912,0.92,0.904,0.831,0.782,0.823,0.823,0.489,0.522,0.563,0.538,0.563,0.587,0.62,0.644,0.685,0.668,0.595,0.652,0.693,
 0.63,0.685,0.725,0.79,0.774,0.798,0.807,0.831,0.847,0.717,0.872,0.88,0.88,0.896,0.888,0.872,0.855,0.88,0.896,0.863,
 0.896,0.904,0.912,0.912,0.904,0.912,0.92,0.904,0.896,0.888,0.904,0.896,0.847,0.904,0.92,0.912,0.904,0.839,0.88,0.88,
 0.888,0.872,0.782,0.774,0.815,0.863,0.863,0.847,0.863,0.872,0.863,0.88,0.896,0.904,0.896,0.888,0.896,0.888,0.88,0.904,
 0.896,0.88,0.872,0.888,0.847,0.863,0.798,0.896,0.904,0.904,0.896,0.376,0.473,0.603,0.595,0.62,0.668,0.668,0.66,0.652]

q20_ntsw = [
 0.92,0.912,0.847,0.863,0.928,0.92,0.896,0.937,0.928,0.888,0.88,0.888,0.872,0.863,0.88,0.888,0.863,0.847,0.863,0.847,
 0.863,0.88,0.896,0.912,0.888,0.88,0.872,0.855,0.831,0.823,0.839,0.815,0.782,0.798,0.823,0.847,0.855,0.831,0.847,0.863,
 0.872,0.855,0.863,0.847,0.872,0.88,0.863,0.872,0.855,0.766,0.717,0.766,0.863,0.847,0.855,0.872,0.863,0.855,0.847,0.863,
 0.855,0.847,0.766,0.815,0.847,0.855,0.839,0.831,0.839,0.888,0.904,0.896,0.88,0.863,0.872,0.847,0.831,0.839,0.847,0.855,
 0.863,0.872,0.88,0.888,0.896,0.912,0.92,0.928,0.92,0.912,0.92,0.928,0.92,0.912,0.904,0.912,0.92,0.928,0.912,0.92,
 0.912,0.904,0.88,0.685,0.66,0.725,0.75,0.766,0.782,0.798,0.815,0.831,0.815,0.847,0.839,0.855,0.831,0.863,0.847,0.636,
 0.709,0.75,0.798,0.823,0.839,0.847,0.863,0.88,0.872,0.863,0.872,0.855,0.88,0.896,0.888,0.912,0.88,0.863,0.888,0.912,
 0.92,0.904,0.912,0.928,0.92,0.937,0.912,0.92,0.912,0.904,0.912,0.92,0.904,0.912,0.896,0.904,0.912,0.896,0.904,0.912,
 0.92,0.912,0.904,0.912,0.896,0.904,0.912,0.88,0.888,0.863,0.815,0.709,0.758,0.807,0.847,0.88,0.855,0.872,0.863,0.88,
 0.872,0.88,0.888,0.896,0.831,0.823,0.815,0.847,0.88,0.888,0.88,0.896,0.888,0.863,0.872,0.896,0.904,0.912,0.904,0.912,
 0.92,0.912,0.904,0.912,0.92,0.928,0.912,0.904,0.912,0.92,0.912,0.896,0.904,0.912,0.92,0.928,0.92,0.912,0.904,0.912,
 0.92,0.912,0.855,0.847,0.88,0.872,0.904,0.912,0.896,0.88,0.863,0.847,0.872,0.88,0.888,0.896,0.831,0.912,0.92,0.904,
 0.912,0.92,0.928,0.92,0.912,0.904,0.896,0.766,0.912,0.92,0.855,0.847,0.872,0.888,0.725,0.782,0.88,0.896,0.888,0.896,
 0.912,0.928,0.92,0.863,0.847,0.855,0.823,0.603,0.66,0.668,0.717,0.709,0.717,0.725,0.733,0.766,0.758,0.75,0.798,0.815,
 0.823,0.807,0.815,0.831,0.847,0.88,0.863,0.847,0.88,0.855,0.872,0.88,0.888,0.896,0.896,0.888,0.863,0.888,0.912,0.904,
 0.912,0.92,0.928,0.92,0.912,0.904,0.912,0.92,0.912,0.904,0.912,0.92,0.896,0.912,0.928,0.92,0.912,0.88,0.896,0.904,
 0.896,0.872,0.88,0.847,0.872,0.888,0.896,0.896,0.88,0.888,0.896,0.904,0.912,0.904,0.896,0.904,0.896,0.904,0.896,0.904,
 0.912,0.896,0.888,0.896,0.855,0.872,0.815,0.896,0.904,0.904,0.896,0.473,0.62,0.782,0.798,0.79,0.815,0.863,0.831,0.806]

x_ticks = [0, 50, 100, 150, 200, 250, 300, 350]
event_t = 104
series_names = ["3D cells (5 km)", "3D cells (10 km)", "3D cells (20 km)", "earthquakes"]
y_titles = ["⟨<i>d</i>⟩<sub><i>LCC</i></sub> (SVG(C/E))",
            "⟨<i>d</i>⟩<sub><i>LCC</i></sub> (NTSW(C))",
            "Q (SVG(C/E))", "Q (NTSW(C))"]

# ---------------- figure ----------------
W, H = 1254, 1036
ML, MR, MT, MB = 80, 0, 97, 52
PW = W - ML - MR   # 1174
PH = H - MT - MB   # 887


def px_x(px):
    return (px - ML) / PW


def px_y(py):
    return (H - MB - py) / PH


styles = [
    dict(color="#00BFFF", width=3.4),
    dict(color="black", width=1.2),
    dict(color="red", width=2.2, dash="dot"),
    dict(color="black", width=2.2, dash="7px,3px"),
]

panels = [
    [d5_svg, d10_svg, d20_svg, deq_svg],
    [d5_ntsw, d10_ntsw, d20_ntsw, None],
    [q5_svg, q10_svg, q20_svg, qeq_svg],
    [q5_ntsw, q10_ntsw, q20_ntsw, None],
]
tops = [97, 334, 571.3, 808.7]
bots = [272, 509.3, 746.7, 984]
yranges = [[-0.16, 6.75], [-0.08, 5.97], [0.339, 0.979], [0.127, 0.982]]
yticks = [[0, 1, 2, 3, 4, 5, 6], [0, 1, 2, 3, 4, 5],
          [0.4, 0.5, 0.6, 0.7, 0.8, 0.9], [0.2, 0.4, 0.6, 0.8]]

fig = go.Figure()
for p, group in enumerate(panels):
    xa = "x" if p == 0 else f"x{p+1}"
    ya = "y" if p == 0 else f"y{p+1}"
    for s, vals in enumerate(group):
        if vals is None:
            continue
        fig.add_trace(go.Scatter(
            x=list(range(1, len(vals) + 1)), y=vals, mode="lines",
            line=styles[s], name=series_names[s], showlegend=False,
            xaxis=xa, yaxis=ya))

tickfont = dict(family="DejaVu Sans", size=16.7, color="black")
layout = dict(
    width=W, height=H,
    margin=dict(l=ML, r=MR, t=MT, b=MB, pad=0),
    plot_bgcolor="white", paper_bgcolor="white",
    font=dict(family="DejaVu Sans", color="black"),
    showlegend=False,
)
annotations = []
shapes = []
for p in range(4):
    xkey = "xaxis" if p == 0 else f"xaxis{p+1}"
    ykey = "yaxis" if p == 0 else f"yaxis{p+1}"
    ya = "y" if p == 0 else f"y{p+1}"
    xa = "x" if p == 0 else f"x{p+1}"
    d0 = px_y(bots[p])
    d1 = px_y(tops[p])
    layout[xkey] = dict(domain=[0, 1], anchor=ya, range=[-6.1, 366.1],
                        tickvals=x_ticks, ticks="outside", ticklen=5, tickwidth=1,
                        tickcolor="black", showline=True, linecolor="black",
                        linewidth=1, mirror=True, showgrid=False, zeroline=False,
                        tickfont=tickfont, ticklabelstandoff=-4)
    layout[ykey] = dict(domain=[max(0, d0), min(1, d1)], anchor=xa, range=yranges[p],
                        tickvals=yticks[p], ticks="outside", ticklen=5, tickwidth=1,
                        tickcolor="black", showline=True, linecolor="black",
                        linewidth=1, mirror=False, showgrid=False, zeroline=False,
                        tickfont=tickfont)
    shapes.append(dict(type="line", xref=xa, yref=f"{ya} domain", x0=event_t, x1=event_t,
                       y0=0, y1=1, line=dict(color="black", width=1.2), layer="above"))
    annotations.append(dict(text=y_titles[p], xref="paper", yref="paper",
                            x=px_x(22), y=px_y((tops[p] + bots[p]) / 2),
                            xanchor="center", yanchor="middle", textangle=-90,
                            showarrow=False, font=dict(family="DejaVu Sans", size=22.2)))

annotations.append(dict(text="S. California", xref="paper", yref="paper", x=0.5,
                        y=px_y(85), xanchor="center", yanchor="middle", showarrow=False,
                        font=dict(family="DejaVu Sans", size=22.2)))
annotations.append(dict(text="t", xref="paper", yref="paper", x=px_x(648),
                        y=px_y(1021), xanchor="center", yanchor="middle",
                        showarrow=False, font=dict(family="DejaVu Sans", size=22.2)))

# ---- legend drawn by hand (matplotlib-like layout) ----
LF = 18.9
box_l, box_r, box_t, box_b = 193, 1104, 5, 42
r = 4
x0, x1 = px_x(box_l), px_x(box_r)
y0, y1 = px_y(box_b), px_y(box_t)
rx, ry = r / PW, r / PH
path = (f"M{x0+rx},{y0} L{x1-rx},{y0} Q{x1},{y0} {x1},{y0+ry} "
        f"L{x1},{y1-ry} Q{x1},{y1} {x1-rx},{y1} L{x0+rx},{y1} Q{x0},{y1} {x0},{y1-ry} "
        f"L{x0},{y0+ry} Q{x0},{y0} {x0+rx},{y0} Z")
shapes.append(dict(type="path", path=path, xref="paper", yref="paper",
                   line=dict(color="#cccccc", width=1), fillcolor="rgba(255,255,255,0.8)",
                   layer="above"))
text_starts = [253.5, 487.3, 733.1, 978.9]
leg_y = 24
for k, ts in enumerate(text_starts):
    ln = dict(styles[k])
    shapes.append(dict(type="line", xref="paper", yref="paper",
                       x0=px_x(ts - 2.8 * LF), x1=px_x(ts - 0.8 * LF),
                       y0=px_y(leg_y), y1=px_y(leg_y), line=ln, layer="above"))
    annotations.append(dict(text=series_names[k], xref="paper", yref="paper",
                            x=px_x(ts - 2), y=px_y(leg_y), xanchor="left", yanchor="middle",
                            showarrow=False, font=dict(family="DejaVu Sans", size=LF)))

layout["annotations"] = annotations
layout["shapes"] = shapes
fig.update_layout(**layout)
fig.write_html("out.html")
